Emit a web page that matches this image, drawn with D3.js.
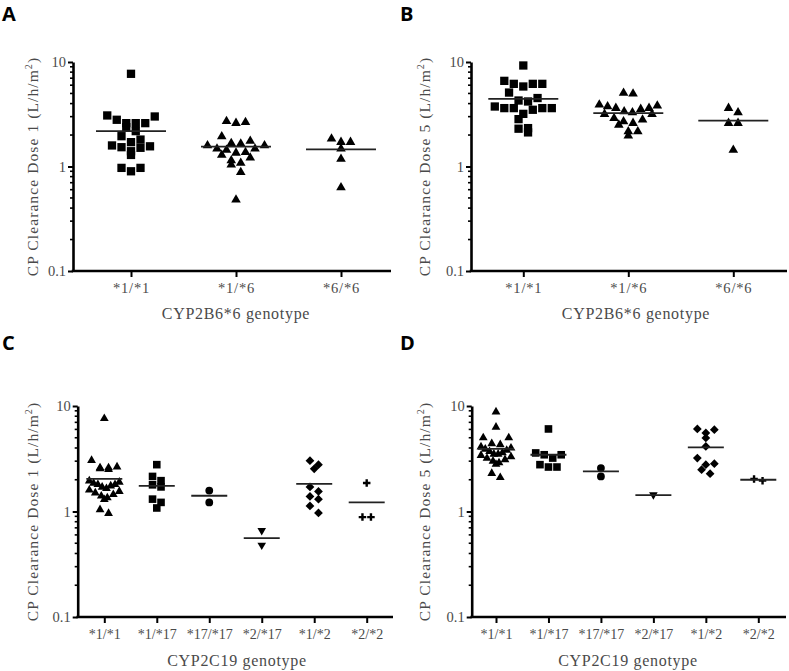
<!DOCTYPE html>
<html><head><meta charset="utf-8">
<script src="https://cdn.jsdelivr.net/npm/d3@7"></script>
<style>body{margin:0;background:#fff} svg{display:block}</style>
</head><body>
<svg id="chart" width="789" height="671"></svg>
<script>
// ---------- DATA ----------
const catsB6 = ["*1/*1", "*1/*6", "*6/*6"];
const catsC19 = ["*1/*1", "*1/*17", "*17/*17", "*2/*17", "*1/*2", "*2/*2"];
const yTickValues = [0.1, 1, 10];
const yTickLabels = ["0.1", "1", "10"];
const panelLetters = ["A", "B", "C", "D"];
const yTitleDose1 = "CP Clearance Dose 1 (L/h/m";
const yTitleDose5 = "CP Clearance Dose 5 (L/h/m";
const xTitleB6 = "CYP2B6*6 genotype";
const xTitleC19 = "CYP2C19 genotype";

// Panel A: dose 1 by CYP2B6*6
const aS1S1 = [7.71, 3.08, 3.01, 2.8, 2.6, 2.6, 2.6, 2.38, 2.18, 1.95, 1.81, 1.71, 1.59, 1.56, 1.53, 1.51, 1.40, 1.29, 0.97, 0.97, 0.90];
const aS1S6 = [2.71, 2.65, 2.6, 1.94, 1.75, 1.67, 1.65, 1.59, 1.59, 1.48, 1.48, 1.44, 1.37, 1.35, 1.29, 1.21, 1.14, 1.08, 1.04, 0.88, 0.48];
const aS6S6 = [1.84, 1.71, 1.71, 1.48, 1.18, 0.63];
const aMeans = [2.18, 1.55, 1.46];

// Panel B: dose 5 by CYP2B6*6
const bS1S1 = [9.26, 6.6, 6.18, 6.18, 6.18, 5.83, 5.1, 4.52, 4.28, 4.19, 3.75, 3.62, 3.62, 3.62, 3.62, 3.49, 3.19, 2.84, 2.33, 2.3, 2.12];
const bS1S6 = [5.04, 4.96, 3.89, 3.81, 3.75, 3.62, 3.62, 3.54, 3.36, 3.28, 3.17, 3.17, 2.9, 2.8, 2.7, 2.6, 2.5, 2.16, 2.16, 1.97];
const bS6S6 = [3.62, 3.28, 2.6, 2.6, 1.44];
const bMeans = [4.44, 3.24, 2.75];

// Panel C: dose 1 by CYP2C19
const cS1S1 = [7.6, 3.05, 2.65, 2.6, 2.6, 2.55, 2.5, 1.95, 1.9, 1.85, 1.8, 1.8, 1.75, 1.7, 1.65, 1.6, 1.55, 1.5, 1.45, 1.4, 1.35, 1.3, 1.04, 0.96];
const cS1S17 = [2.78, 2.15, 1.96, 1.79, 1.71, 1.31, 1.22, 1.08];
const cS17S17 = [1.58, 1.22];
const cS2S17 = [0.66, 0.48];
const cS1S2 = [3.03, 2.78, 2.54, 1.71, 1.55, 1.39, 1.31, 1.13, 0.97];
const cS2S2 = [1.86, 0.885, 0.885];
const cMeans = [2.04, 1.75, 1.41, 0.56, 1.83, 1.22];

// Panel D: dose 5 by CYP2C19
const dS1S1 = [8.8, 6.3, 5.0, 5.0, 4.4, 4.3, 4.1, 4.0, 3.9, 3.8, 3.7, 3.6, 3.5, 3.5, 3.4, 3.3, 3.2, 3.1, 3.0, 2.9, 2.8, 2.3, 2.1];
const dS1S17 = [6.06, 3.59, 3.45, 3.45, 3.21, 2.78, 2.64, 2.64];
const dS17S17 = [2.58, 2.15];
const dS2S17 = [1.44];
const dS1S2 = [6.06, 5.97, 5.55, 4.98, 4.14, 3.21, 2.84, 2.78, 2.49, 2.28];
const dS2S2 = [2.03, 1.96];
const dMeans = [3.92, 3.45, 2.4, 1.43, 4.05, 2.0];

// ---------- DRAWING ----------
const svg = d3.select("#chart");
const SERIF = "'Liberation Serif','DejaVu Serif',serif";
const TEXT = "#4a4a4a";

const sq = (s) => d3.symbol(d3.symbolSquare, s * s)();
const tri = (s) => d3.symbol(d3.symbolTriangle, s * s * Math.sqrt(3) / 4)();
const circ = (d) => d3.symbol(d3.symbolCircle, Math.PI * d * d / 4)();
const plusPath = (s) => { const r = s / 2; return `M${-r},0H${r}M0,${-r}V${r}`; };

const markersB6 = [
  {path: sq(8.3)}, {path: tri(9.6)}, {path: tri(9.6)}
];
const markersC19 = [
  {path: tri(8.8)}, {path: sq(7.6)}, {path: circ(7.8)},
  {path: tri(8.6), rotate: 180}, {path: sq(6.2), rotate: 45}, {path: plusPath(7.5), stroke: true}
];

function swarm(values, cx, y, opt) {
  const pts = values.map(v => ({v, py: y(v)})).sort((a, b) => a.py - b.py);
  const rows = [];
  let cur = null;
  pts.forEach(p => {
    if (!cur || p.py - cur.start > opt.rowH) { cur = {start: p.py, items: []}; rows.push(cur); }
    cur.items.push(p);
  });
  rows.forEach(r => {
    const n = r.items.length;
    const s = n > 1 ? Math.min(opt.w, opt.maxW / (n - 1)) : 0;
    const slots = [];
    if (n % 2 === 1) { slots.push(0); for (let k = 1; slots.length < n; k++) { slots.push(k); if (slots.length < n) slots.push(-k); } }
    else { for (let k = 0.5; slots.length < n; k++) { slots.push(k); slots.push(-k); } }
    r.items.sort((a, b) => a.v - b.v).forEach((p, i) => { p.px = cx + slots[i] * s; });
  });
  return pts;
}

function drawPanel(cfg) {
  const g = svg.append("g");
  const y = d3.scaleLog().domain([0.1, 10]).range([cfg.yBot, cfg.yTop]);
  const x = d3.scalePoint().domain(cfg.cats).range([cfg.c0, cfg.c1]);

  // minor ticks
  const minor = y.ticks().filter(v => Math.abs(Math.log10(v) - Math.round(Math.log10(v))) > 1e-6);
  g.append("g").selectAll("line").data(minor).join("line")
    .attr("x1", cfg.x0 - 3).attr("x2", cfg.x0).attr("y1", d => y(d)).attr("y2", d => y(d))
    .attr("stroke", "#000").attr("stroke-width", 1.6);

  // y axis
  const ya = g.append("g").attr("transform", `translate(${cfg.x0},0)`)
    .call(d3.axisLeft(y).tickValues(yTickValues).tickFormat((d, i) => yTickLabels[i]).tickSize(5).tickSizeOuter(0));
  ya.select(".domain").attr("stroke", "#000").attr("stroke-width", 2.6);
  ya.selectAll(".tick line").attr("stroke", "#000").attr("stroke-width", 2);
  ya.selectAll(".tick text").attr("font-family", SERIF).attr("font-size", 14.5).attr("fill", TEXT).attr("x", -7);

  // x axis
  g.append("line").attr("x1", cfg.x0 - 1.3).attr("x2", cfg.x1).attr("y1", cfg.yBot).attr("y2", cfg.yBot)
    .attr("stroke", "#000").attr("stroke-width", 2.6);
  const xa = g.append("g").attr("transform", `translate(0,${cfg.yBot})`)
    .call(d3.axisBottom(x).tickSize(6).tickSizeOuter(0));
  xa.select(".domain").remove();
  xa.selectAll(".tick line").attr("stroke", "#000").attr("stroke-width", 2);
  xa.selectAll(".tick text").attr("font-family", SERIF).attr("font-size", cfg.xFont).attr("fill", TEXT)
    .attr("letter-spacing", cfg.xSpacing).attr("y", 12);

  // y title
  const yt = g.append("text")
    .attr("transform", `translate(${cfg.yTitleX},${(cfg.yTop + cfg.yBot) / 2}) rotate(-90)`)
    .attr("text-anchor", "middle").attr("font-family", SERIF).attr("font-size", 15.5)
    .attr("letter-spacing", 1.1).attr("fill", TEXT);
  yt.append("tspan").text(cfg.yTitle);
  yt.append("tspan").attr("font-size", 10).attr("dy", -6).text("2");
  yt.append("tspan").attr("dy", 6).text(")");

  // x title
  g.append("text").attr("x", cfg.xTitleX).attr("y", cfg.xTitleY).attr("text-anchor", "middle")
    .attr("font-family", SERIF).attr("font-size", 16).attr("letter-spacing", 0.7).attr("fill", TEXT)
    .text(cfg.xTitle);

  // panel letter
  g.append("text").attr("x", cfg.letterX).attr("y", cfg.letterY)
    .attr("font-family", "'Open Sans',Roboto,sans-serif").attr("font-weight", 700).attr("font-size", 20)
    .attr("fill", "#000").text(cfg.letter);

  // points
  cfg.series.forEach((vals, i) => {
    const cx = x(cfg.cats[i]);
    const pts = swarm(vals, cx, y, cfg.swarm);
    const mk = cfg.markers[i];
    g.append("g").selectAll("path").data(pts).join("path")
      .attr("d", mk.path)
      .attr("transform", d => `translate(${d.px},${d.py})` + (mk.rotate ? ` rotate(${mk.rotate})` : ""))
      .attr("fill", mk.stroke ? "none" : "#000")
      .attr("stroke", mk.stroke ? "#000" : "none")
      .attr("stroke-width", mk.stroke ? 2.4 : 0);
    // mean line
    g.append("line").attr("x1", cx - cfg.meanW / 2).attr("x2", cx + cfg.meanW / 2)
      .attr("y1", y(cfg.means[i])).attr("y2", y(cfg.means[i]))
      .attr("stroke", "#222").attr("stroke-width", 1.8);
  });
}

const swarmAB = {rowH: 9, w: 9.5, maxW: 58};
const swarmCD = {rowH: 8, w: 8.5, maxW: 30};

drawPanel({letter: panelLetters[0], letterX: 2, letterY: 21, cats: catsB6, x0: 73, x1: 391, c0: 131, c1: 341,
  yTop: 62, yBot: 271, yTitle: yTitleDose1, yTitleX: 38, xTitle: xTitleB6, xTitleX: 236, xTitleY: 319,
  xFont: 14.5, xSpacing: 0.8, series: [aS1S1, aS1S6, aS6S6], means: aMeans, markers: markersB6, swarm: swarmAB, meanW: 70});
drawPanel({letter: panelLetters[1], letterX: 400, letterY: 21, cats: catsB6, x0: 471, x1: 787, c0: 523.3, c1: 733.3,
  yTop: 62, yBot: 271, yTitle: yTitleDose5, yTitleX: 430, xTitle: xTitleB6, xTitleX: 636, xTitleY: 319,
  xFont: 14.5, xSpacing: 0.8, series: [bS1S1, bS1S6, bS6S6], means: bMeans, markers: markersB6, swarm: swarmAB, meanW: 70});
drawPanel({letter: panelLetters[2], letterX: 2, letterY: 350, cats: catsC19, x0: 77.7, x1: 393, c0: 104.3, c1: 366.7,
  yTop: 406, yBot: 617, yTitle: yTitleDose1, yTitleX: 38, xTitle: xTitleC19, xTitleX: 237, xTitleY: 666,
  xFont: 14, xSpacing: 0, series: [cS1S1, cS1S17, cS17S17, cS2S17, cS1S2, cS2S2], means: cMeans, markers: markersC19, swarm: swarmCD, meanW: 36});
drawPanel({letter: panelLetters[3], letterX: 400, letterY: 350, cats: catsC19, x0: 471.7, x1: 786, c0: 496, c1: 758.3,
  yTop: 406, yBot: 617, yTitle: yTitleDose5, yTitleX: 430, xTitle: xTitleC19, xTitleX: 628, xTitleY: 666,
  xFont: 14, xSpacing: 0, series: [dS1S1, dS1S17, dS17S17, dS2S17, dS1S2, dS2S2], means: dMeans, markers: markersC19, swarm: swarmCD, meanW: 36});
</script>
</body></html>
